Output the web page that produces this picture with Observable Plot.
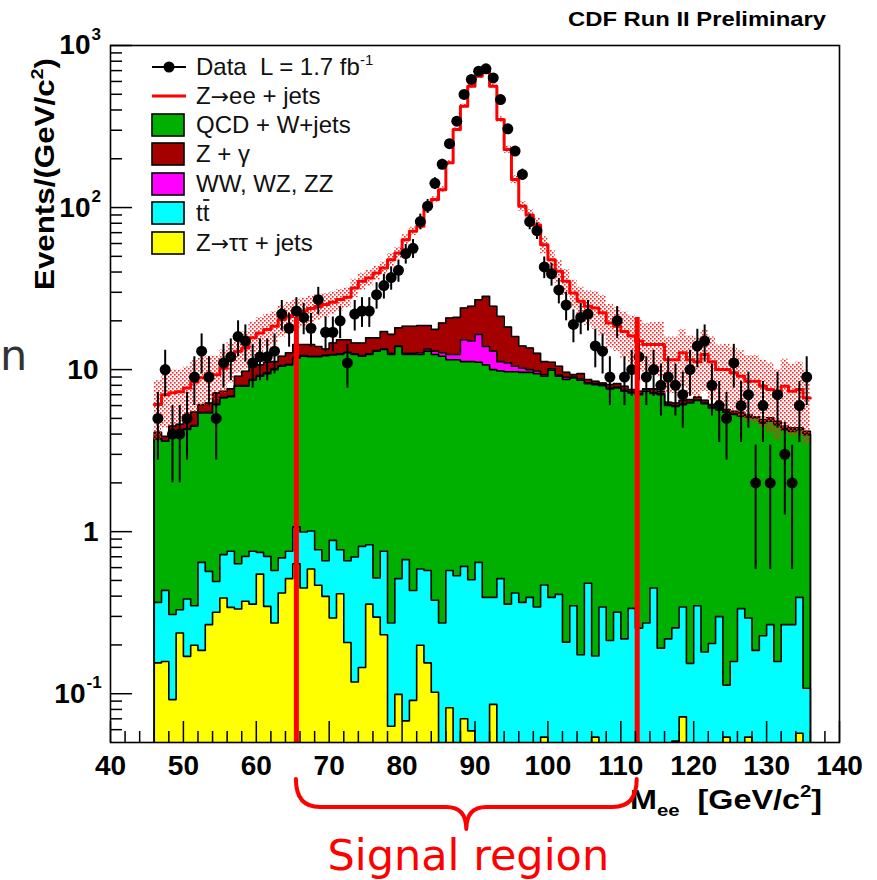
<!DOCTYPE html>
<html>
<head>
<meta charset="utf-8">
<script src="https://cdn.jsdelivr.net/npm/d3@7"></script>
<script src="https://cdn.jsdelivr.net/npm/@observablehq/plot@0.6"></script>
<style>
html,body{margin:0;padding:0;background:#fff;}
#chart svg{display:block;}
</style>
</head>
<body>
<div id="chart"></div>
<script>
// ---------------- data ----------------
const binStart = 46;   // GeV, lower edge of first bin
const binWidth = 1;    // GeV

// observed events per bin
const dataCounts = [5,10,4,4,5,9,13,9,5,11,
 12,16,15,11,12,12,13,22,18,23,
 21,18,27,17,17,20,11,22,23,23,
 29,33,37,41,52,56,82,102,141,185,
 248,341,499,617,694,718,631,464,306,223,
 160,82,72,43,39,31,25,19,21,22,
 14,13,9,20,9,10,12,9,10,8,
 9,8,7,10,14,15,8,6,5,11,
 6,7,2,6,2,7,3,2,6,9];

// total prediction (Z->ee + jets on top of the stack, red line)
const totalPrediction = [6.1,7.0,7.2,7.3,7.7,8.4,8.9,9.2,9.3,10.2,
 11.5,13.0,13.6,15.7,16.8,17.7,18.5,20.4,21.3,22.4,
 23.0,23.8,24.5,25.2,26.0,27.1,28.0,31.9,35.1,36.8,
 39.5,42.4,47.7,52.5,63.4,71.4,76.7,102,112,129,
 189,303,422,561,646,694,561,349,228,149,
 102,90,78,59,47.7,40.5,35.1,29.7,26.4,24.6,
 24.0,22.4,19.4,18.5,17.2,16.1,15.0,14.3,14.3,14.3,
 11.5,11.5,12.7,11.5,11.2,12.4,11.2,10.0,10.0,9.55,
 9.09,8.47,8.47,7.89,7.53,6.84,7.89,7.35,7.53,6.69];

// relative uncertainty of the prediction (hatched band)
const bandRelError = [0.40,0.38,0.38,0.36,0.35,0.35,0.33,0.32,0.30,0.30,
 0.28,0.27,0.26,0.25,0.25,0.24,0.23,0.22,0.22,0.21,
 0.20,0.19,0.18,0.17,0.16,0.15,0.14,0.13,0.12,0.11,
 0.10,0.09,0.09,0.08,0.07,0.06,0.05,0.05,0.04,0.04,
 0.03,0.03,0.03,0.03,0.03,0.03,0.03,0.04,0.05,0.06,
 0.07,0.08,0.10,0.12,0.14,0.16,0.18,0.20,0.22,0.24,
 0.26,0.28,0.30,0.30,0.32,0.33,0.34,0.35,0.36,0.37,
 0.38,0.38,0.39,0.40,0.40,0.41,0.42,0.42,0.43,0.43,
 0.44,0.44,0.45,0.45,0.46,0.46,0.47,0.47,0.48,0.48];

// cumulative stack levels (top of each filled histogram)
const zgammaTop = [4.10,3.87,4.48,4.6,5.03,5.48,6.08,6.22,7.18,7.35,
 7.60,9.09,9.77,10.4,10.7,11.1,11.2,12.1,12.7,14.3,
 14.3,14.3,13.9,13.4,14.6,15.3,15.3,14.6,14.6,15.7,
 15.7,17.2,16.5,18.1,18.5,18.5,18.7,18.7,17.7,19.4,
 20.8,21.0,24.0,24.6,27.0,28.3,24.6,21.3,18.3,16.0,
 14.0,13.6,12.6,11.2,11.1,10.5,9.62,9.31,9.44,8.68,
 8.47,8.27,8.08,8.20,7.89,7.53,7.35,7.60,7.60,7.35,
 6.28,6.22,6.46,6.53,6.78,6.46,6.08,5.93,5.66,5.53,
 5.45,5.28,5.11,4.91,5.04,4.80,4.47,4.37,4.37,4.16];

const dibosonTop = [3.76,3.64,3.9,3.94,4.31,4.52,5.45,5.45,6.14,6.75,
 6.87,7.97,7.98,8.68,9.18,9.55,10.1,10.6,10.8,11.9,
 12.2,12.1,12.1,12.3,12.4,12.5,12.8,12.5,12.2,12.5,
 13.1,13.4,12.6,14.0,12.6,12.6,12.7,13.4,13.0,12.7,
 12.4,12.4,15.3,15.0,16.5,13.9,13.0,11.2,11.0,10.5,
 10.2,10.0,9.8,9.3,10.1,9.25,8.95,9.0,8.75,8.3,
 8.2,8.05,7.7,7.8,7.45,7.28,7.1,7.55,7.2,7.08,
 6.06,5.99,6.14,6.28,6.52,6.22,5.86,5.72,5.5,5.33,
 5.2,5.16,5.09,4.74,4.85,4.62,4.3,4.26,4.33,4.01];

const qcdTop = [3.73,3.61,3.86,3.9,4.27,4.48,5.4,5.4,6.08,6.69,
 6.8,7.89,7.9,8.59,9.09,9.45,10.0,10.5,10.7,11.8,
 12.1,12.0,12.0,12.2,12.3,12.4,12.7,12.4,12.1,12.4,
 13.0,13.3,12.4,13.9,12.4,12.4,12.4,13.0,12.4,12.1,
 11.5,11.5,11.2,11.2,11.1,10.7,10.0,9.8,9.7,9.7,
 9.62,9.62,9.44,9.09,9.91,9.09,8.68,8.89,8.59,8.20,
 8.08,7.96,7.60,7.71,7.35,7.18,7.01,7.35,7.12,7.01,
 6.00,5.93,6.08,6.22,6.46,6.16,5.80,5.66,5.45,5.28,
 5.15,5.11,5.04,4.69,4.80,4.57,4.26,4.16,4.26,3.97];

const ttbarTop = [0.366,0.434,0.308,0.330,0.384,0.349,0.646,0.569,0.493,0.722,
 0.757,0.634,0.704,0.757,0.745,0.704,0.576,0.689,0.757,1.07,
 0.995,1.01,0.774,0.662,0.883,0.774,0.662,0.698,0.811,0.831,
 0.518,0.757,0.273,0.513,0.672,0.433,0.588,0.576,0.377,0.273,
 0.576,0.535,0.611,0.505,0.646,0.393,0.393,0.513,0.357,0.418,
 0.366,0.393,0.343,0.469,0.393,0.410,0.208,0.349,0.174,0.480,
 0.171,0.343,0.213,0.319,0.218,0.336,0.254,0.273,0.449,0.191,
 0.218,0.255,0.343,0.154,0.349,0.181,0.204,0.299,0.113,0.158,
 0.335,0.293,0.185,0.228,0.267,0.158,0.267,0.267,0.393,0.108];

const ztautauTop = [0.155,0.158,0.092,0.237,0.170,0.199,0.185,0.267,0.318,0.390,
 0.341,0.333,0.372,0.357,0.547,0.346,0.273,0.418,0.513,0.634,
 0.449,0.588,0.467,0.399,0.293,0.414,0.207,0.118,0.145,0.357,
 0.297,0.231,0.063,0.099,0.068,0.091,0.199,0.155,0.102,0,
 0.082,0,0.070,0.059,0,0,0.086,0,0,0,
 0,0,0,0.054,0,0,0,0,0,0,
 0.054,0,0,0,0,0,0,0,0,0,
 0,0.051,0.072,0,0,0,0,0,0.054,0,
 0,0.054,0,0,0,0,0,0,0.057,0];

const signalEdges = [65.5, 112.25];   // GeV, the two red lines
const signalLineTop = 21;             // events, top of the red lines

const xDomain = [40, 140];
const yDomain = [0.05, 1000];
const xMajorTicks = [40,50,60,70,80,90,100,110,120,130,140];
const xMinorTicks = [42,44,46,48,52,54,56,58,62,64,66,68,72,74,76,78,82,84,86,88,92,94,96,98,
 102,104,106,108,112,114,116,118,122,124,126,128,132,134,136,138];
const yMajorTicks = [0.1,1,10,100,1000];
const yMinorTicks = [0.06,0.07,0.08,0.09,0.2,0.3,0.4,0.5,0.6,0.7,0.8,0.9,
 2,3,4,5,6,7,8,9,20,30,40,50,60,70,80,90,200,300,400,500,600,700,800,900];
const yTickLabels = [
  {v: 0.1, base: "10", exp: "-1"},
  {v: 1, base: "1", exp: ""},
  {v: 10, base: "10", exp: ""},
  {v: 100, base: "10", exp: "2"},
  {v: 1000, base: "10", exp: "3"}
];

const legendLabels = ["Data  L = 1.7 fb", "Z\u2192ee + jets", "QCD + W+jets", "Z + \u03b3", "WW, WZ, ZZ", "tt", "Z\u2192\u03c4\u03c4 + jets"];
const legendColors = [null, "#ff0000", "#00b000", "#a50000", "#ff00ff", "#00ffff", "#ffff00"];

// ---------------- build ----------------
const W = 877, H = 880;
const M = {top: 45, right: 38, bottom: 138, left: 110};
const frameW = W - M.left - M.right;
const frameH = H - M.top - M.bottom;
const FONT = "'Liberation Sans', Arial, Helvetica, sans-serif";

const bins = dataCounts.map((n, i) => ({
  x0: binStart + i * binWidth,
  x1: binStart + (i + 1) * binWidth,
  xc: binStart + (i + 0.5) * binWidth,
  n,
  total: totalPrediction[i],
  err: bandRelError[i],
  zg: zgammaTop[i], vv: dibosonTop[i], qcd: qcdTop[i], tt: ttbarTop[i], ztt: ztautauTop[i]
}));
const floor = yDomain[0] / 3; // below the frame; clipped away

function stepRows(fn) {
  return bins.flatMap(b => { const r = fn(b); return [{x: b.x0, ...r}, {x: b.x1, ...r}]; });
}
function outlineRows(key) {
  const rows = stepRows(b => ({y: b[key] > 0 ? b[key] : floor}));
  return [{x: bins[0].x0, y: floor}, ...rows, {x: bins[bins.length - 1].x1, y: floor}];
}

const layers = [
  {key: "zg", color: "#a50000"},
  {key: "vv", color: "#ff00ff"},
  {key: "qcd", color: "#00b000"},
  {key: "tt", color: "#00ffff"},
  {key: "ztt", color: "#ffff00"}
];

const defsMark = () => {
  const defs = d3.create("svg:defs");
  const p = defs.append("pattern").attr("id", "bandHatch").attr("patternUnits", "userSpaceOnUse")
    .attr("width", 4).attr("height", 4);
  p.append("rect").attr("x", 0).attr("y", 0).attr("width", 1.6).attr("height", 1.6).attr("fill", "#ff2020");
  p.append("rect").attr("x", 2).attr("y", 2).attr("width", 1.6).attr("height", 1.6).attr("fill", "#ff2020");
  return defs.node();
};

const marks = [defsMark];
for (const L of layers) {
  marks.push(Plot.areaY(stepRows(b => ({y: b[L.key] > 0 ? b[L.key] : floor})),
    {x: "x", y1: floor, y2: "y", fill: L.color, clip: true}));
  marks.push(Plot.line(outlineRows(L.key), {x: "x", y: "y", stroke: "#000", strokeWidth: 1.6, clip: true}));
}
// uncertainty band
marks.push(Plot.areaY(stepRows(b => ({lo: b.total * (1 - b.err), hi: b.total * (1 + b.err)})),
  {x: "x", y1: "lo", y2: "hi", fill: "url(#bandHatch)", clip: true}));
// Z->ee total
marks.push(Plot.line(stepRows(b => ({y: b.total})), {x: "x", y: "y", stroke: "#ff0000", strokeWidth: 3, clip: true}));
// data
marks.push(Plot.ruleX(bins, {x: "xc", y1: b => Math.max(b.n - Math.sqrt(b.n), floor), y2: b => b.n + Math.sqrt(b.n), stroke: "#000", strokeWidth: 2, clip: true}));
marks.push(Plot.ruleY(bins, {y: "n", x1: "x0", x2: "x1", stroke: "#000", strokeWidth: 2}));
marks.push(Plot.dot(bins, {x: "xc", y: "n", r: 5.5, fill: "#000", stroke: null}));
// signal region lines
marks.push(Plot.ruleX(signalEdges, {x: d => d, y1: signalLineTop, y2: yDomain[0], stroke: "#ff0000", strokeWidth: 5}));
// ticks (inside the frame)
marks.push(Plot.ruleX(xMajorTicks, {x: d => d, insetTop: frameH - 21, stroke: "#000", strokeWidth: 1.5}));
marks.push(Plot.ruleX(xMinorTicks, {x: d => d, insetTop: frameH - 11, stroke: "#000", strokeWidth: 1.5}));
marks.push(Plot.ruleY(yMajorTicks, {y: d => d, insetRight: frameW - 22, stroke: "#000", strokeWidth: 1.5}));
marks.push(Plot.ruleY(yMinorTicks, {y: d => d, insetRight: frameW - 12, stroke: "#000", strokeWidth: 1.5}));
marks.push(Plot.frame({stroke: "#000", strokeWidth: 1.6}));
// tick labels
marks.push(Plot.text(xMajorTicks, {x: d => d, frameAnchor: "bottom", dy: 13, lineAnchor: "top", text: d => String(d),
  fontSize: 28, fontWeight: "bold", fill: "#000"}));
marks.push(Plot.text(yTickLabels.filter(d => !d.exp), {y: "v", frameAnchor: "left", dx: -12, textAnchor: "end", lineAnchor: "middle",
  text: "base", fontSize: 28, fontWeight: "bold", fill: "#000"}));
for (const d of yTickLabels.filter(d => d.exp)) {
  const expW = d.exp.length > 1 ? 25 : 20;
  marks.push(Plot.text([d], {y: "v", frameAnchor: "left", dx: -expW, textAnchor: "end", lineAnchor: "middle",
    text: "base", fontSize: 28, fontWeight: "bold", fill: "#000"}));
  marks.push(Plot.text([d], {y: "v", frameAnchor: "left", dx: -expW + 1, dy: -11, textAnchor: "start", lineAnchor: "middle",
    text: "exp", fontSize: 17, fontWeight: "bold", fill: "#000"}));
}

const plot = Plot.plot({
  width: W, height: H,
  marginTop: M.top, marginRight: M.right, marginBottom: M.bottom, marginLeft: M.left,
  style: {fontFamily: FONT, background: "#fff", overflow: "visible"},
  x: {domain: xDomain, axis: null},
  y: {type: "log", domain: yDomain, axis: null},
  marks
});
document.getElementById("chart").appendChild(plot);

// ---------------- annotations ----------------
const svg = d3.select(plot);
const sx = plot.scale("x");
const g = svg.append("g").attr("font-family", FONT).attr("text-anchor", "start").style("white-space", "pre");

// header
g.append("text").attr("x", 826).attr("y", 26).attr("text-anchor", "end")
  .attr("font-weight", "bold").attr("font-size", 20).attr("textLength", 258).attr("lengthAdjust", "spacingAndGlyphs")
  .text("CDF Run II Preliminary");

// y title
const yt = g.append("text").attr("transform", "translate(54,58) rotate(-90)").attr("text-anchor", "end")
  .attr("font-weight", "bold").attr("font-size", 27).attr("textLength", 232).attr("lengthAdjust", "spacingAndGlyphs");
yt.append("tspan").text("Events/(GeV/c");
yt.append("tspan").attr("font-size", 17).attr("dy", -11).text("2");
yt.append("tspan").attr("dy", 11).text(")");

// x title
const xt = g.append("text").attr("x", 822).attr("y", 809).attr("text-anchor", "end")
  .attr("font-weight", "bold").attr("font-size", 27).attr("textLength", 192).attr("lengthAdjust", "spacingAndGlyphs");
xt.append("tspan").text("M");
xt.append("tspan").attr("font-size", 17).attr("dy", 7).text("ee");
xt.append("tspan").attr("dy", -7).text("  [GeV/c");
xt.append("tspan").attr("font-size", 17).attr("dy", -12).text("2");
xt.append("tspan").attr("dy", 12).text("]");

// legend
const legendRowY = [67, 96, 125, 154, 184, 213, 243];
const lx0 = 152, lx1 = 184, ltx = 196;
legendLabels.forEach((label, i) => {
  const y = legendRowY[i];
  if (i === 0) {
    g.append("line").attr("x1", lx0).attr("x2", lx1 + 2).attr("y1", y).attr("y2", y).attr("stroke", "#000").attr("stroke-width", 2);
    g.append("circle").attr("cx", (lx0 + lx1) / 2 + 1).attr("cy", y).attr("r", 5.5).attr("fill", "#000");
  } else if (i === 1) {
    g.append("line").attr("x1", lx0).attr("x2", lx1 + 2).attr("y1", y).attr("y2", y).attr("stroke", legendColors[i]).attr("stroke-width", 3);
  } else {
    g.append("rect").attr("x", lx0).attr("y", y - 11).attr("width", lx1 - lx0).attr("height", 22)
      .attr("fill", legendColors[i]).attr("stroke", "#000").attr("stroke-width", 1.6);
  }
  const t = g.append("text").attr("x", ltx).attr("y", y + 8).attr("font-size", 24).attr("fill", "#111").attr("text-anchor", "start");
  const parts = label.split("\u2192");
  parts.forEach((p, k) => {
    if (k > 0) t.append("tspan").attr("font-family", "'DejaVu Sans', sans-serif").attr("font-size", 22).text("\u2192");
    t.append("tspan").text(p);
  });
  if (i === 0) t.append("tspan").attr("font-size", 15).attr("dy", -10).text("-1");
  if (i === 5) {
    const w = t.node().getComputedTextLength() || 13;
    g.append("line").attr("x1", ltx + w / 2 + 0.5).attr("x2", ltx + w).attr("y1", y - 13).attr("y2", y - 13)
      .attr("stroke", "#111").attr("stroke-width", 1.8);
  }
});

// brace under the signal region
const xl = sx.apply(signalEdges[0]), xr = sx.apply(signalEdges[1]), xm = (xl + xr) / 2;
const yTop = 779, yMid = 807, yTip = 829;
const bracePath = `M${xl},${yTop} Q${xl},${yMid} ${xl + 24},${yMid} L${xm - 20},${yMid} Q${xm},${yMid} ${xm},${yTip}`
  + ` Q${xm},${yMid} ${xm + 20},${yMid} L${xr - 24},${yMid} Q${xr},${yMid} ${xr},${yTop}`;
g.append("path").attr("d", bracePath).attr("fill", "none").attr("stroke", "#ff0000").attr("stroke-width", 4)
  .attr("stroke-linecap", "round").attr("stroke-linejoin", "round");
g.append("text").attr("x", xm + 2).attr("y", 870).attr("text-anchor", "middle").attr("font-family", "'DejaVu Sans', Verdana, sans-serif")
  .attr("font-size", 43).attr("fill", "#ff0000").text("Signal region");

// slide text fragment at the left edge
g.append("text").attr("x", 0).attr("y", 370).attr("font-family", "'DejaVu Sans', Verdana, sans-serif")
  .attr("font-size", 43).attr("fill", "#333").text("n");
</script>
</body>
</html>
